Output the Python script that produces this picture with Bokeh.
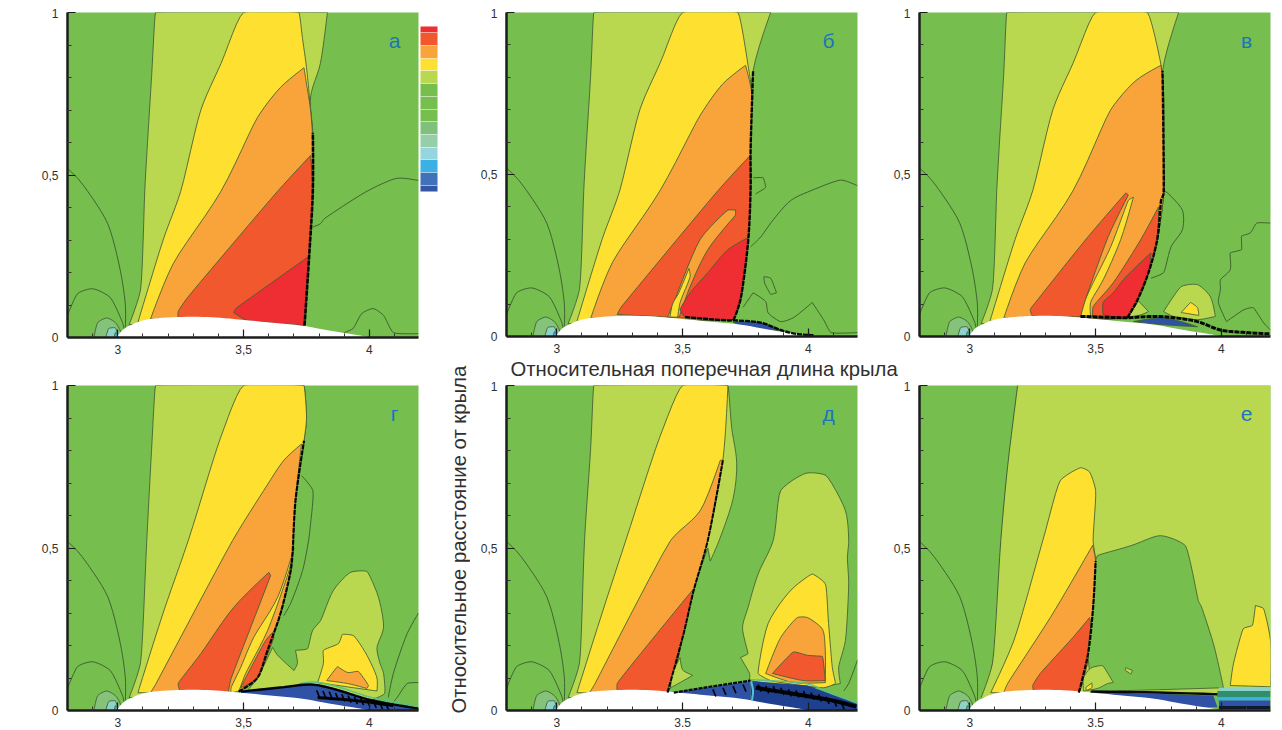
from math import pi, hypot
from bokeh.plotting import figure
from bokeh.layouts import row, column
from bokeh.models import Label, FixedTicker, ColorBar, LinearColorMapper, Range1d
from bokeh.embed import file_html
from bokeh.resources import INLINE

GREEN, LYG, YEL, ORG, ROR, RED = "#76BE4D", "#BAD750", "#FDE030", "#F9A43A", "#F2582D", "#EE2E33"
C_LEVELS = ["#3555A5", "#3F72B8", "#3BB0E5", "#95D5DD", "#95CFAA", "#7FC07A", "#76BE4D", "#76BE4D", "#76BE4D",
            "#BAD750", "#FDE030", "#F9A43A", "#F2582D", "#EE2E33"]
BLUE, TEAL, CYAN, PALE = "#2F52A6", "#8FD3C8", "#3BB0E5", "#85C27A"

X_MAJOR = [3, 3.5, 4]
X_MINOR = [2.9, 3.1, 3.2, 3.3, 3.4, 3.6, 3.7, 3.8, 3.9, 4.1]
Y_MAJOR = [0, 0.5, 1]
Y_MINOR = [0.1, 0.2, 0.3, 0.4, 0.6, 0.7, 0.8, 0.9]
PANEL_NAMES = ["а", "б", "в", "г", "д", "е"]
X_TITLE = "Относительная поперечная длина крыла"
Y_TITLE = "Относительное расстояние от крыла"

WING = [(3.0, 0), (3.0, .006), (3.025, .027), (3.078, .047), (3.131, .057), (3.237, .063), (3.356, .063), (3.46, .057),
        (3.594, .047), (3.726, .037), (3.858, .019), (3.964, .006), (4.0, 0)]
ARC_OUT = [(2.8, .52), (2.84, .49), (2.88, .45), (2.96, .35), (3.01, .206), (3.03, .1), (3.03, .03)]
ARC_IN = [(2.8, .068), (2.84, .135), (2.9, .15), (2.97, .123), (3.02, .043), (3.025, .025)]
NOSE_1 = [(2.905, 0), (2.92, .046), (2.956, .06), (2.99, .046), (3.01, .02), (3.01, 0)]
NOSE_2 = [(2.952, 0), (2.964, .028), (2.99, .03), (3.0, .008), (3.0, 0)]
NOSE_3 = [(2.985, 0), (2.99, .015), (3.0, .01), (3.0, 0)]

# panel a
A_LYG = [(3.15, 1), (3.134, .8), (3.118, .6), (3.107, .45), (3.09, .145), (3.045, .04), (3.742, .037), (3.76, .245),
         (3.775, .45), (3.775, .63), (3.766, .74), (3.805, .843), (3.833, 1)]
A_YEL = [(3.5, 1), (3.41, .843), (3.33, .7), (3.25, .45), (3.18, .3), (3.08, .047), (3.742, .037), (3.76, .245),
         (3.775, .45), (3.775, .6), (3.766, .7), (3.75, .83), (3.734, .92), (3.72, 1)]
A_ORG = [(3.13, .057), (3.22, .227), (3.41, .45), (3.555, .677), (3.647, .77), (3.74, .83), (3.75, .78), (3.766, .7),
         (3.775, .6), (3.775, .45), (3.76, .245), (3.742, .037)]
A_ROR = [(3.24, .062), (3.24, .08), (3.277, .123), (3.635, .45), (3.766, .56), (3.775, .45), (3.76, .245), (3.742, .037)]
A_RED = [(3.515, .052), (3.46, .077), (3.47, .09), (3.76, .25), (3.742, .037)]
A_SHOCK = [(3.742, .037), (3.76, .245), (3.775, .45), (3.775, .63)]
A_L1 = [(3.775, .34), (3.805, .35), (3.82, .365), (3.99, .45), (4.11, .49), (4.195, .483)]
A_L2 = [(3.9, .015), (3.935, .028), (3.97, .074), (4.015, .089), (4.056, .068), (4.095, .015), (4.195, .012)]

# panel b
B_LYG = [(3.147, 1), (3.134, .8), (3.118, .6), (3.107, .45), (3.09, .145), (3.045, .04), (3.70, .052), (3.73, .114),
         (3.76, .29), (3.77, .45), (3.77, .575), (3.78, .82), (3.85, 1)]
B_YEL = [(3.5, 1), (3.41, .843), (3.33, .7), (3.25, .45), (3.18, .3), (3.08, .047), (3.70, .052), (3.73, .114),
         (3.76, .29), (3.77, .45), (3.77, .575), (3.775, .75), (3.76, .837), (3.72, 1)]
B_ORG = [(3.135, .057), (3.22, .227), (3.41, .45), (3.57, .683), (3.66, .78), (3.75, .837), (3.775, .75), (3.77, .575),
         (3.77, .45), (3.76, .29), (3.73, .114), (3.70, .052)]
B_ROR = [(3.24, .068), (3.255, .09), (3.64, .45), (3.77, .56), (3.77, .45), (3.76, .29), (3.73, .114), (3.70, .052)]
B_OR2 = [(3.71, .39), (3.68, .39), (3.57, .3), (3.465, .105), (3.44, .06), (3.485, .06), (3.525, .145), (3.6, .268), (3.71, .375)]
B_YE2 = [(3.525, .21), (3.485, .135), (3.46, .10), (3.45, .06), (3.48, .06), (3.49, .105), (3.53, .185)]
B_RED = [(3.76, .305), (3.68, .268), (3.6, .197), (3.53, .135), (3.49, .083), (3.51, .06), (3.70, .052), (3.73, .114), (3.76, .29)]
B_SHOCK = [(3.51, .06), (3.70, .05), (3.73, .114), (3.76, .29), (3.77, .45), (3.77, .575), (3.78, .82)]
B_WAKE = [(3.70, .05), (3.81, .043), (3.89, .02), (3.95, .008), (4.02, .004)]
B_BLUE = [(3.70, .045), (3.81, .043), (3.89, .02), (3.86, .018), (3.72, .036)]
B_L1 = [(3.77, .277), (3.81, .307), (3.86, .36), (3.93, .42), (4.01, .45), (4.13, .483), (4.195, .465)]
B_L2 = [(3.78, .49), (3.82, .49), (3.83, .46), (3.79, .44)]
B_L3 = [(3.823, .185), (3.85, .18), (3.873, .135), (3.85, .13), (3.826, .165), (3.823, .185)]
B_L4 = [(3.74, .09), (3.78, .135), (3.83, .108), (3.84, .073), (3.89, .046), (3.94, .058), (4.015, .105), (4.06, .052), (4.09, .012), (4.195, .012)]

# panel c
C_LYG = [(3.147, 1), (3.134, .8), (3.118, .6), (3.107, .45), (3.09, .145), (3.045, .04), (3.626, .058), (3.667, .114), (3.71, .197),
         (3.745, .3), (3.77, .44), (3.77, .575), (3.766, .82), (3.83, 1)]
C_YEL = [(3.5, 1), (3.41, .843), (3.33, .7), (3.25, .45), (3.18, .3), (3.08, .047), (3.626, .058), (3.667, .114), (3.71, .197),
         (3.745, .3), (3.77, .44), (3.77, .575), (3.77, .75), (3.76, .837), (3.706, 1)]
C_ORG = [(3.135, .057), (3.22, .227), (3.41, .45), (3.56, .70), (3.66, .79), (3.76, .837), (3.77, .75), (3.77, .575), (3.77, .44),
         (3.745, .3), (3.71, .197), (3.667, .114), (3.626, .058)]
C_ROR = [(3.24, .083), (3.25, .062), (3.44, .062), (3.46, .114), (3.55, .308), (3.63, .437), (3.62, .443), (3.47, .308), (3.27, .114)]
C_YE2 = [(3.65, .43), (3.63, .42), (3.56, .277), (3.49, .166), (3.46, .114), (3.44, .06), (3.48, .06), (3.48, .105), (3.53, .175), (3.6, .3)]
C_RO2 = [(3.75, .40), (3.68, .3), (3.57, .166), (3.49, .092), (3.488, .06), (3.626, .058), (3.667, .114), (3.71, .197), (3.745, .3)]
C_RED = [(3.72, .258), (3.667, .22), (3.61, .175), (3.57, .135), (3.53, .105), (3.53, .067), (3.626, .058), (3.667, .114), (3.71, .197)]
C_LY2 = [(3.67, .11), (3.71, .077), (3.68, .067), (3.63, .06)]
C_LY3 = [(3.77, .077), (3.84, .154), (3.905, .16), (3.956, .123), (3.976, .062), (3.905, .052), (3.81, .062)]
C_YE3 = [(3.84, .074), (3.877, .105), (3.905, .089), (3.91, .065)]
C_BLUE = [(3.65, .046), (3.76, .058), (3.84, .046), (3.905, .03), (3.757, .037)]
C_SHOCK = [(3.626, .058), (3.667, .114), (3.71, .197), (3.745, .3), (3.76, .42), (3.77, .44), (3.77, .575), (3.766, .82)]
C_WAKE = [(3.44, .062), (3.626, .058), (3.73, .062), (3.81, .058), (3.905, .046), (3.996, .02), (4.10, .012), (4.195, .008)]
C_L1 = [(3.77, .45), (3.786, .443), (3.845, .39), (3.845, .33), (3.80, .277), (3.77, .197), (3.72, .18)]
C_L2 = [(4.195, .35), (4.14, .35), (4.115, .32), (4.08, .31), (4.08, .268), (4.035, .258), (4.035, .206), (3.996, .175), (3.996, .145), (3.988, .105), (4.02, .046)]
C_L3 = [(4.02, .046), (4.09, .083), (4.127, .089), (4.167, .043), (4.195, .02)]

# panel g
G_LYG = [(3.15, 1), (3.134, .8), (3.115, .523), (3.09, .145), (3.045, .04), (3.44, .055), (3.555, .10), (3.595, .185), (3.647, .3),
         (3.687, .43), (3.695, .49), (3.706, .646), (3.74, .83), (3.75, .9), (3.74, 1)]
G_YEL = [(3.5, 1), (3.41, .843), (3.28, .523), (3.18, .3), (3.08, .055), (3.44, .055), (3.555, .10), (3.595, .185), (3.647, .3),
         (3.687, .43), (3.695, .49), (3.706, .646), (3.74, .83), (3.75, .9), (3.74, 1)]
G_ORG = [(3.13, .055), (3.15, .08), (3.456, .523), (3.58, .677), (3.66, .77), (3.73, .82), (3.706, .646), (3.695, .49), (3.687, .43),
         (3.647, .3), (3.595, .185), (3.555, .10), (3.48, .06)]
G_ROR = [(3.6, .425), (3.46, .317), (3.33, .175), (3.24, .083), (3.25, .055), (3.437, .055), (3.45, .098), (3.607, .415)]
G_YE2 = [(3.70, .5), (3.635, .348), (3.54, .225), (3.488, .132), (3.45, .07), (3.45, .055), (3.48, .06), (3.508, .114), (3.595, .246), (3.68, .43)]
G_RO2 = [(3.615, .24), (3.587, .215), (3.528, .13), (3.488, .07), (3.508, .077), (3.555, .10), (3.62, .225)]
G_LY2 = [(3.555, .10), (3.615, .194), (3.635, .17), (3.70, .123), (3.714, .145), (3.706, .185), (3.754, .19), (3.774, .246), (3.806, .277),
         (3.857, .37), (3.925, .425), (3.99, .428), (4.036, .348), (4.056, .255), (4.03, .194), (4.04, .15), (4.056, .114), (4.06, .052),
         (3.99, .03), (3.857, .06), (3.766, .077), (3.516, .062)]
G_YE3 = [(3.794, .086), (3.817, .145), (3.817, .185), (3.877, .206), (3.893, .234), (3.937, .23), (3.99, .17), (4.03, .10), (4.03, .06), (3.937, .07)]
G_OR3 = [(3.83, .092), (3.873, .135), (3.913, .117), (3.956, .12), (3.996, .077), (3.99, .068), (3.913, .083)]
G_SHOCK = [(3.48, .058), (3.555, .10), (3.595, .185), (3.647, .3), (3.687, .43), (3.695, .49), (3.706, .646), (3.74, .83)]
G_BLUE = [(3.49, .058), (3.66, .072), (3.77, .08), (3.86, .068), (3.99, .035), (4.1, .018), (4.195, .006), (4.195, 0), (3.5, 0)]
G_WAKE = [(3.49, .058), (3.66, .072), (3.77, .08), (3.86, .066), (3.99, .035), (4.1, .018), (4.195, .006)]
G_WAKE2 = [(3.794, .04), (3.95, .03), (4.095, .015)]
G_EDGE = [(3.72, .082), (3.78, .088), (3.87, .074), (3.99, .044), (4.1, .026), (4.195, .012)]
G_HATCH_X = [3.79, 3.815, 3.84, 3.865, 3.89, 3.915, 3.94, 3.965, 3.99, 4.015, 4.04, 4.065]
G_HATCH_Y = [.062, .06, .058, .054, .05, .046, .042, .038, .034, .03, .026, .022]
G_L1 = [(3.73, .723), (3.775, .677), (3.766, .575), (3.758, .523), (3.734, .43), (3.687, .33), (3.66, .292)]
G_L2 = [(4.195, .3), (4.15, .237), (4.095, .114), (4.075, .04)]
G_L3 = [(4.195, .086), (4.15, .083), (4.11, .04), (4.09, .02)]

# panel d
D_LYG = [(3.147, 1), (3.134, .8), (3.11, .523), (3.09, .145), (3.045, .04), (3.44, .055), (3.504, .237), (3.544, .37), (3.6, .5), (3.61, .46),
         (3.645, .523), (3.70, .65), (3.715, .76), (3.695, .87), (3.68, 1)]
D_YEL = [(3.5, 1), (3.41, .843), (3.274, .523), (3.18, .3), (3.08, .055), (3.44, .055), (3.504, .237), (3.544, .37), (3.6, .523), (3.66, .77), (3.68, 1)]
D_ORG = [(3.13, .055), (3.15, .08), (3.452, .523), (3.57, .615), (3.65, .77), (3.66, .77), (3.6, .523), (3.544, .37), (3.504, .237), (3.44, .055)]
D_ROR = [(3.544, .375), (3.333, .175), (3.24, .083), (3.24, .06), (3.433, .055), (3.504, .237)]
D_LY2 = [(3.49, .163), (3.46, .114), (3.452, .07), (3.49, .086), (3.54, .108), (3.50, .125)]
D_LY3 = [(3.99, .73), (4.07, .723), (4.147, .615), (4.16, .523), (4.155, .47), (4.16, .39), (4.147, .215), (4.12, .132), (4.127, .083),
         (4.0, .07), (3.766, .092), (3.766, .114), (3.73, .163), (3.76, .175), (3.738, .255), (3.76, .317), (3.80, .42), (3.86, .523), (3.89, .677)]
D_YE3 = [(3.80, .114), (3.84, .268), (3.93, .37), (4.015, .42), (4.067, .39), (4.08, .268), (4.095, .132), (4.107, .083), (4.06, .07), (3.85, .092)]
D_OR3 = [(3.83, .114), (3.89, .225), (3.956, .286), (3.996, .286), (4.056, .25), (4.067, .185), (4.067, .086), (3.94, .086)]
D_RO3 = [(3.857, .114), (3.94, .18), (3.996, .17), (4.056, .166), (4.067, .092), (3.98, .092)]
D_SHOCK = [(3.44, .055), (3.504, .237), (3.544, .37), (3.6, .523), (3.66, .77)]
D_BLUE = [(3.465, .055), (3.6, .07), (3.77, .09), (3.77, .02), (3.465, .02)]
D_DARK = [(3.77, .09), (3.996, .077), (4.195, .02), (4.195, 0), (3.77, 0)]
D_WAKE = [(3.465, .055), (3.6, .072), (3.77, .092)]
D_WAKE2 = [(3.79, .07), (3.95, .05), (4.1, .03), (4.19, .012)]
D_EDGE = [(3.77, .095), (3.996, .082), (4.1, .05), (4.195, .024)]
D_TEAL = [(3.772, .09), (3.78, .06), (3.775, .03)]
D_HATCH_X = [3.62, 3.66, 3.70, 3.74, 3.80, 3.83, 3.86, 3.89, 3.92, 3.95, 3.98, 4.01, 4.04, 4.07, 4.10, 4.13]
D_HATCH_Y = [.065, .07, .075, .08, .08, .075, .075, .07, .065, .062, .06, .055, .05, .042, .034, .026]
D_L1 = [(4.195, .155), (4.16, .083), (4.14, .06)]

# panel e
E_LYG = [(3.19, 1), (3.15, .75), (3.123, .523), (3.09, .145), (3.045, .04), (3.6, .05), (4.195, .05), (4.195, 1)]
E_YEL = [(3.44, .747), (3.36, .708), (3.29, .523), (3.175, .215), (3.083, .055), (3.433, .055), (3.47, .175), (3.49, .317), (3.5, .46),
         (3.49, .523), (3.5, .677), (3.475, .735)]
E_ORG = [(3.488, .508), (3.43, .43), (3.32, .286), (3.15, .083), (3.135, .055), (3.433, .055), (3.47, .175), (3.49, .317), (3.5, .46)]
E_ROR = [(3.476, .286), (3.41, .225), (3.28, .114), (3.25, .077), (3.254, .06), (3.433, .055), (3.468, .145), (3.49, .225)]
E_GRN = [(3.508, .477), (3.64, .507), (3.758, .538), (3.857, .507), (3.908, .338), (3.92, .32), (3.968, .206), (3.996, .114), (4.008, .07),
         (3.49, .06), (3.47, .175), (3.49, .317), (3.5, .46)]
E_LY2 = [(3.452, .1), (3.48, .13), (3.528, .138), (3.57, .086), (3.548, .083), (3.508, .068), (3.452, .06)]
E_YE2 = [(3.46, .07), (3.485, .085), (3.485, .07), (3.465, .062)]
E_LY3 = [(3.62, .132), (3.647, .123), (3.64, .112), (3.618, .124)]
E_YE3 = [(4.035, .077), (4.048, .145), (4.087, .252), (4.123, .262), (4.135, .323), (4.167, .314), (4.195, .215), (4.195, .073)]
E_SHOCK = [(3.433, .055), (3.47, .175), (3.49, .317), (3.5, .46)]
E_BLUE = [(3.49, .057), (3.968, .046), (3.984, .01), (3.6, .01)]
E_WAKE = [(3.48, .058), (3.7, .056), (3.984, .05)]
E_S1 = [(3.99, .071), (4.195, .071), (4.195, .06), (3.99, .06)]
E_S2 = [(3.984, .06), (4.195, .06), (4.195, .041), (3.984, .041)]
E_S3 = [(3.984, .041), (4.195, .041), (4.195, .031), (3.984, .031)]
E_S4 = [(3.99, .031), (4.195, .031), (4.195, .014), (3.99, .014)]
E_S5 = [(3.99, .014), (4.195, .014), (4.195, .004), (3.99, .004)]

LINE = "#3F5E33"
INK = "#303030"
FONT = "Liberation Sans"
ASPECT = 325 / 252


def curve(pts, closed=False, steps=6):
    """Draws the read vertices as a smooth contour that passes through each of them; sharp corners stay sharp."""
    n = len(pts)
    tang = []
    for i in range(n):
        if not closed and i in (0, n - 1):
            tang.append((0.0, 0.0))
            continue
        a, b, c = pts[(i - 1) % n], pts[i], pts[(i + 1) % n]
        ux, uy = b[0] - a[0], (b[1] - a[1]) * ASPECT
        vx, vy = c[0] - b[0], (c[1] - b[1]) * ASPECT
        lu, lv = hypot(ux, uy), hypot(vx, vy)
        if lu == 0 or lv == 0:
            tang.append((0.0, 0.0))
            continue
        cosang = (ux * vx + uy * vy) / (lu * lv)
        k = max(0.0, cosang)
        dx, dy = ux / lu + vx / lv, uy / lu + vy / lv
        d = hypot(dx, dy) or 1
        m = min(lu, lv) * k
        tang.append((dx / d * m, dy / d * m / ASPECT))
    out = []
    for i in range(n if closed else n - 1):
        p0, p1 = pts[i], pts[(i + 1) % n]
        t0, t1 = tang[i], tang[(i + 1) % n]
        for s in range(steps):
            t = s / steps
            h00, h10, h01, h11 = 2*t**3 - 3*t**2 + 1, t**3 - 2*t**2 + t, -2*t**3 + 3*t**2, t**3 - t**2
            out.append((h00*p0[0] + h10*t0[0] + h01*p1[0] + h11*t1[0], h00*p0[1] + h10*t0[1] + h01*p1[1] + h11*t1[1]))
    if not closed:
        out.append(pts[-1])
    return out


def make(width, height, left, right, top, bottom, name, letter_x, comma=True):
    p = figure(width=width, height=height, x_range=Range1d(2.8, 4.195), y_range=Range1d(0, 1), output_backend="svg",
               toolbar_location=None, min_border_left=left, min_border_right=right, min_border_top=top,
               min_border_bottom=bottom, background_fill_color=GREEN, border_fill_color="white", outline_line_color=None)
    p.grid.visible = False
    mid = "3,5" if comma else "3.5"
    ax = p.xaxis[0]
    ax.ticker = FixedTicker(ticks=X_MAJOR, minor_ticks=X_MINOR)
    ax.major_label_overrides = {3: "3", 3.5: mid, 4: "4"}
    ay = p.yaxis[0]
    ay.ticker = FixedTicker(ticks=Y_MAJOR, minor_ticks=Y_MINOR)
    ay.major_label_overrides = {0: "0", 0.5: "0,5", 1: "1"}
    for a in (ax, ay):
        a.level = "overlay"
        a.axis_line_color = "#1c1c1c"
        a.axis_line_width = 2.5
        a.major_tick_line_color = "#1c1c1c"
        a.major_tick_line_width = 1.2
        a.minor_tick_line_color = "#333333"
        a.major_tick_in, a.major_tick_out = 8, 0
        a.minor_tick_in, a.minor_tick_out = 4, 0
        a.major_label_text_font = FONT
        a.major_label_text_font_size = "12px"
        a.major_label_text_color = INK
    ax.major_label_standoff = 7
    ay.major_label_standoff = 9
    p.add_layout(Label(x=letter_x, y=.915, text=name, text_font="Liberation Sans", text_font_size="21px",
                       text_color="#1B75BC", text_align="center", text_baseline="middle"))
    p.add_layout(Label(x=2.755, y=.785, text="y", text_font="Liberation Serif", text_font_style="italic",
                       text_font_size="18px", text_color=INK, text_align="center", text_baseline="middle"))
    p.add_layout(Label(x=4.147, y=-.026, text="x", text_font="Liberation Serif", text_font_style="italic",
                       text_font_size="17px", text_color=INK, text_align="center", text_baseline="middle"))
    return p


def fill(p, pts, color, line=LINE, w=1.0):
    c = curve(pts, closed=True)
    p.patch([a for a, _ in c], [b for _, b in c], fill_color=color, line_color=line, line_width=w, line_alpha=.85)


def band(p, pts, color):
    p.patch([a for a, _ in pts], [b for _, b in pts], fill_color=color, line_color=None)


def stroke(p, pts, color=LINE, w=1.0, dash="solid"):
    c = curve(pts)
    p.line([a for a, _ in c], [b for _, b in c], line_color=color, line_width=w, line_dash=dash, line_alpha=.95)


def nose(p):
    stroke(p, ARC_OUT)
    stroke(p, ARC_IN)
    fill(p, NOSE_1, PALE)
    fill(p, NOSE_2, TEAL)
    fill(p, NOSE_3, CYAN)


def wing(p):
    c = curve(WING)
    p.patch([a for a, _ in c], [b for _, b in c], fill_color="white", line_color=None)


def hatch(p, xs, ys, dx, dy, color="black", w=1.6):
    p.segment(xs, ys, [v + dx for v in xs], [v + dy for v in ys], line_color=color, line_width=w)


W_L, W_S, W_M, W_R = 438, 24, 410, 394

# a
pa = make(W_L, 370, 59, 28, 4, 41, PANEL_NAMES[0], 4.10)
nose(pa)
for pts, c in [(A_LYG, LYG), (A_YEL, YEL), (A_ORG, ORG), (A_ROR, ROR), (A_RED, RED)]:
    fill(pa, pts, c)
stroke(pa, A_L1)
stroke(pa, A_L2)
stroke(pa, A_SHOCK, "black", 2.6, "5 1")
wing(pa)
cticks = [1, 3, 5, 7, 9, 11, 13, 15, 17, 19, 21, 23, 25]
cm = LinearColorMapper(palette=[C_LEVELS[0]] + [c for c in C_LEVELS[1:-1] for _ in (0, 1)] + [C_LEVELS[-1]], low=0, high=26)
cb = ColorBar(color_mapper=cm, location=(353, 146), width=17, height=165, padding=0, bar_line_color=None,
              ticker=FixedTicker(ticks=cticks), major_label_overrides={t: "" for t in cticks},
              major_tick_line_color="white", major_tick_in=17, major_tick_out=0, major_tick_line_alpha=.55,
              background_fill_alpha=0, border_line_color=None, minor_tick_line_color=None)
pa.add_layout(cb)

# b
pb = make(W_M, 347, 36, 23, 4, 18, PANEL_NAMES[1], 4.08)
nose(pb)
for pts, c in [(B_LYG, LYG), (B_YEL, YEL), (B_ORG, ORG), (B_ROR, ROR), (B_OR2, ORG), (B_YE2, YEL), (B_RED, RED), (B_BLUE, BLUE)]:
    fill(pb, pts, c)
for l in (B_L1, B_L2, B_L3, B_L4):
    stroke(pb, l)
wing(pb)
stroke(pb, B_SHOCK, "black", 2.4, "5 1")
stroke(pb, B_WAKE, "black", 2.4, "5 1")

# c
pc = make(W_R, 347, 39, 4, 4, 18, PANEL_NAMES[2], 4.10)
nose(pc)
for pts, c in [(C_LYG, LYG), (C_YEL, YEL), (C_ORG, ORG), (C_ROR, ROR), (C_RO2, ROR), (C_YE2, YEL), (C_RED, RED), (C_LY2, LYG),
               (C_LY3, LYG), (C_YE3, YEL), (C_BLUE, BLUE)]:
    fill(pc, pts, c)
for l in (C_L1, C_L2, C_L3):
    stroke(pc, l)
wing(pc)
stroke(pc, C_SHOCK, "black", 2.4, "5 1")
stroke(pc, C_WAKE, "black", 3, "5 1")

# g
pg = make(W_L, 352, 59, 28, 7, 20, PANEL_NAMES[3], 4.10)
nose(pg)
for pts, c in [(G_LYG, LYG), (G_YEL, YEL), (G_ORG, ORG), (G_ROR, ROR), (G_YE2, YEL), (G_RO2, ROR), (G_LY2, LYG), (G_YE3, YEL), (G_OR3, ORG), (G_BLUE, BLUE)]:
    fill(pg, pts, c)
for l in (G_L1, G_L2, G_L3):
    stroke(pg, l)
stroke(pg, G_EDGE, "#5CC08A", 1.5)
wing(pg)
stroke(pg, G_SHOCK, "black", 2.2, "5 1")
stroke(pg, G_WAKE, "black", 2.4)
stroke(pg, G_WAKE2, "black", 3)
hatch(pg, G_HATCH_X, G_HATCH_Y, .012, -.022)

# d
pd = make(W_M, 349, 36, 23, 4, 20, PANEL_NAMES[4], 4.08, comma=False)
nose(pd)
for pts, c in [(D_LYG, LYG), (D_YEL, YEL), (D_ORG, ORG), (D_ROR, ROR), (D_LY2, LYG), (D_LY3, LYG), (D_YE3, YEL), (D_OR3, ORG), (D_RO3, ROR)]:
    fill(pd, pts, c)
band(pd, D_BLUE, BLUE)
band(pd, D_DARK, "#1F3F8F")
stroke(pd, D_L1)
stroke(pd, D_EDGE, "#5CC08A", 1.5)
wing(pd)
stroke(pd, D_SHOCK, "black", 2, "5 1")
stroke(pd, D_WAKE, "black", 2.2, "4 1")
stroke(pd, D_WAKE2, "black", 4)
stroke(pd, D_TEAL, "#5BC8D8", 2)
hatch(pd, D_HATCH_X, D_HATCH_Y, .012, -.022)

# e
pe = make(W_R, 349, 39, 4, 4, 20, PANEL_NAMES[5], 4.10, comma=False)
nose(pe)
band(pe, E_LYG, LYG)
stroke(pe, E_LYG[:5])
for pts, c in [(E_YEL, YEL), (E_ORG, ORG), (E_ROR, ROR), (E_GRN, GREEN), (E_LY2, LYG), (E_YE2, YEL), (E_LY3, LYG), (E_YE3, YEL)]:
    fill(pe, pts, c)
band(pe, E_BLUE, BLUE)
for pts, c in [(E_S1, TEAL), (E_S2, "#2E8F6A"), (E_S3, CYAN), (E_S4, BLUE), (E_S5, "#101830")]:
    band(pe, pts, c)
wing(pe)
stroke(pe, E_SHOCK, "black", 2.2, "5 1")
stroke(pe, E_WAKE, "black", 2.4)

# texts between the panels
strip = figure(width=W_M + W_R, height=26, x_range=Range1d(0, 1), y_range=Range1d(0, 1), output_backend="svg", toolbar_location=None,
               min_border=0, outline_line_color=None, x_axis_type=None, y_axis_type=None)
strip.grid.visible = False
strip.add_layout(Label(x=40, y=13, x_units="screen", y_units="screen", text=X_TITLE, text_font=FONT,
                       text_font_size="20.3px", text_color=INK, text_align="left", text_baseline="middle"))
side = figure(width=W_S, height=722, x_range=Range1d(0, 1), y_range=Range1d(0, 1), output_backend="svg", toolbar_location=None,
              min_border=0, outline_line_color=None, x_axis_type=None, y_axis_type=None)
side.grid.visible = False
side.add_layout(Label(x=12, y=17, x_units="screen", y_units="screen", text=Y_TITLE, angle=pi / 2, text_font=FONT,
                      text_font_size="20.3px", text_color=INK, text_align="left", text_baseline="middle"))

layout = row(column(pa, pg, spacing=0), side,
             column(row(pb, pc, spacing=0), strip, row(pd, pe, spacing=0), spacing=0),
             spacing=0, margin=(8, 0, 0, 8))
open("out.html", "w").write(file_html(layout, INLINE))
